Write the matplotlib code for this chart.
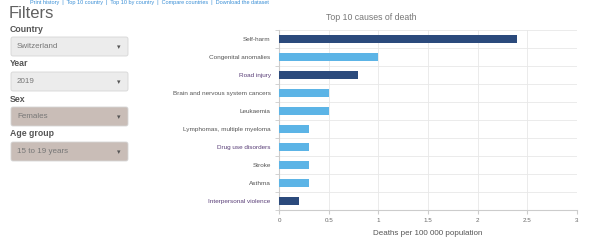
import matplotlib.pyplot as plt
from matplotlib.patches import FancyBboxPatch

plt.rcParams['font.family'] = ['Liberation Sans', 'DejaVu Sans']

# chart data
causes = ['Self-harm', 'Congenital anomalies', 'Road injury',
          'Brain and nervous system cancers', 'Leukaemia',
          'Lymphomas, multiple myeloma', 'Drug use disorders', 'Stroke',
          'Asthma', 'Interpersonal violence']
deaths = [2.4, 1.0, 0.8, 0.5, 0.5, 0.3, 0.3, 0.3, 0.3, 0.2]
groups = ['inj', 'ncd', 'inj', 'ncd', 'ncd', 'ncd', 'ncd', 'ncd', 'ncd', 'inj']
xticks = [0, 0.5, 1, 1.5, 2, 2.5, 3]
xtick_labels = ['0', '0.5', '1', '1.5', '2', '2.5', '3']

# filter panel
filter_names = ['Country', 'Year', 'Sex', 'Age group']
filter_values = ['Switzerland', '2019', 'Females', '15 to 19 years']

bar_colors = {'inj': '#2b4a7c', 'ncd': '#5cb4e6'}
label_colors = {'Road injury': '#5a3f78', 'Drug use disorders': '#5a3f78',
                'Interpersonal violence': '#5a3f78'}

fig = plt.figure(figsize=(5.95, 2.48), dpi=100)

# --- bar chart ---
ax = fig.add_axes([279 / 595, 1 - 210 / 248, 298 / 595, 180 / 248])
ypos = list(range(len(causes)))
ax.barh(ypos, deaths, height=0.45,
        color=[bar_colors[g] for g in groups], zorder=3)
ax.set_ylim(len(causes) - 0.5, -0.5)
ax.set_xlim(0, 3)
ax.set_yticks(ypos)
ax.set_yticklabels(causes, fontsize=4.6)
for t in ax.get_yticklabels():
    t.set_color(label_colors.get(t.get_text(), '#555555'))
ax.set_yticks([y + 0.5 for y in range(-1, len(causes))], minor=True)
ax.tick_params(axis='y', which='major', length=0, pad=6)
ax.tick_params(axis='y', which='minor', length=3, color='#cccccc')
ax.set_xticks(xticks)
ax.set_xticklabels(xtick_labels, fontsize=4.5, color='#666666')
ax.tick_params(axis='x', length=3, color='#cccccc', pad=3)
ax.grid(True, axis='x', color='#e8e8e8', linewidth=0.6, zorder=0)
ax.grid(True, axis='y', which='minor', color='#e8e8e8', linewidth=0.6, zorder=0)
for s in ['top', 'right']:
    ax.spines[s].set_visible(False)
ax.spines['left'].set_color('#cccccc')
ax.spines['bottom'].set_color('#cccccc')
ax.set_xlabel('Deaths per 100 000 population', fontsize=5.8, color='#555555', labelpad=5)
fig.text(371 / 595, 1 - 18 / 248, 'Top 10 causes of death', fontsize=6.3,
         color='#777777', ha='center', va='center')

# --- filter panel (pixel coordinates) ---
pan = fig.add_axes([0, 0, 1, 1])
pan.set_xlim(0, 595)
pan.set_ylim(248, 0)
pan.axis('off')
pan.set_zorder(-1)

pan.text(30, 0.3, 'Print history  |  Top 10 country  |  Top 10 by country  |  Compare countries  |  Download the dataset',
         fontsize=4, color='#3a8fd6', va='top', ha='left')
pan.text(9, 14, 'Filters', fontsize=12, color='#606060', va='center', ha='left')

label_y = [30, 64, 99, 134]
box_top = [37, 72, 107, 142]
box_fill = ['#ececec', '#ececec', '#c9bdb7', '#c9bdb7']
for name, val, ly, by, fc in zip(filter_names, filter_values, label_y, box_top, box_fill):
    pan.text(10, ly, name, fontsize=6.3, fontweight='bold', color='#555555',
             va='center', ha='left')
    pan.add_patch(FancyBboxPatch((11, by), 117, 19, boxstyle='round,pad=0,rounding_size=2',
                                 facecolor=fc, edgecolor='#d6d6d6', linewidth=0.6))
    pan.text(17, by + 9.5, val, fontsize=5.8, color='#777777', va='center', ha='left')
    pan.text(119, by + 10, '\u25be', fontsize=5, color='#555555', va='center', ha='center',
             family='DejaVu Sans')

fig.savefig('out.png', dpi=100)
